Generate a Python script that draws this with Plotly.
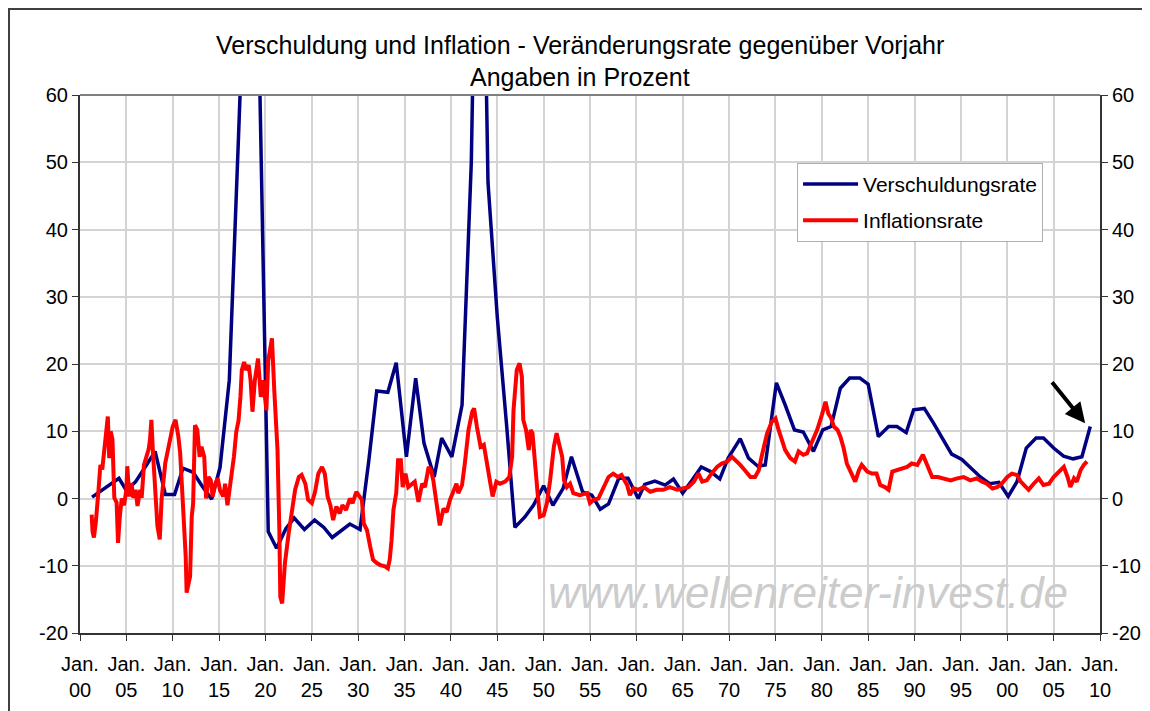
import plotly.graph_objects as go

# ---------------- data ----------------
debt_years = [1901.3, 1902.3, 1903.3, 1904.2, 1905.0, 1906.0, 1907.0, 1908.1, 1909.2, 1910.2,
              1911.1, 1912.2, 1913.2, 1914.2, 1915.1, 1916.1, 1917.1, 1918.2, 1919.3, 1920.3,
              1921.2, 1922.2, 1923.1, 1924.2, 1925.3, 1926.3, 1927.2, 1928.1, 1929.1, 1930.2,
              1931.15, 1932.0, 1933.2, 1934.1, 1935.2, 1936.2, 1937.1, 1938.2, 1939.0, 1940.1,
              1941.2, 1942.2, 1943.1, 1944.0, 1945.0, 1946.0, 1946.9, 1948.0, 1948.9, 1950.0,
              1951.0, 1952.1, 1953.0, 1954.2, 1955.2, 1956.1, 1957.0, 1958.1, 1959.1, 1960.2,
              1960.9, 1962.0, 1963.1, 1964.0, 1965.0, 1966.0, 1967.0, 1968.0, 1969.0, 1969.9,
              1971.2, 1972.1, 1973.1, 1973.9, 1975.1, 1976.05, 1977.05, 1978.0, 1979.1, 1980.1,
              1981.0, 1982.0, 1983.0, 1984.1, 1985.0, 1986.1, 1987.2, 1988.1, 1989.1, 1989.9,
              1991.05, 1992.05, 1993.1, 1994.0, 1995.1, 1996.0, 1997.1, 1998.1, 1999.1, 2000.1,
              2001.05, 2002.05, 2003.1, 2003.9, 2005.0, 2006.07, 2007.1, 2008.05, 2008.95]
debt_values = [0.2, 1.2, 2.1, 3.0, 1.2, 2.5, 4.6, 7.0, 0.6, 0.6,
               4.5, 3.9, 1.8, -0.1, 4.6, 17.6, 54.0, 95.0, 68.0, -4.9,
               -7.4, -4.5, -2.9, -4.6, -3.2, -4.3, -5.8, -4.9, -3.8, -4.6,
               5.7, 16.0, 15.8, 20.2, 6.2, 17.9, 8.2, 3.2, 9.0, 6.2,
               13.9, 50.0, 120.0, 47.0, 27.0, 11.0, -4.3, -2.7, -1.0, 1.9,
               -1.0, 1.5, 6.2, 1.0, 0.5, -1.6, -0.8, 3.0, 3.0, 0.0,
               2.1, 2.6, 2.0, 2.9, 0.8, 2.7, 4.7, 4.0, 2.9, 6.0,
               8.9, 6.0, 4.8, 5.0, 17.2, 13.9, 10.2, 9.9, 7.0, 10.2,
               10.7, 16.4, 17.9, 17.9, 17.0, 9.2, 10.7, 10.7, 9.8, 13.2,
               13.4, 11.2, 8.7, 6.6, 5.8, 4.7, 3.2, 2.2, 2.4, 0.3,
               2.5, 7.5, 9.0, 9.0, 7.5, 6.3, 5.9, 6.2, 10.7]

infl_years = [1901.26, 1901.35, 1901.5, 1901.7, 1902.0, 1902.2, 1902.4, 1902.6, 1902.8, 1903.0,
              1903.15, 1903.3, 1903.5, 1903.7, 1903.95, 1904.1, 1904.3, 1904.5, 1904.75, 1905.0,
              1905.1, 1905.3, 1905.55, 1905.75, 1906.0, 1906.2, 1906.5, 1906.65, 1906.9, 1907.1,
              1907.4, 1907.55, 1907.7, 1907.85, 1908.1, 1908.35, 1908.6, 1908.8, 1909.2, 1909.45,
              1909.7, 1910.0, 1910.3, 1910.6, 1910.8, 1911.0, 1911.2, 1911.4, 1911.5, 1911.87,
              1912.05, 1912.2, 1912.4, 1912.65, 1912.9, 1913.1, 1913.4, 1913.6, 1913.85, 1914.1,
              1914.3, 1914.6, 1914.85, 1915.1, 1915.45, 1915.65, 1915.9, 1916.2, 1916.4, 1916.6,
              1916.85, 1917.1, 1917.3, 1917.45, 1917.7, 1917.9, 1918.2, 1918.4, 1918.6, 1918.85,
              1919.2, 1919.5, 1919.75, 1920.1, 1920.3, 1920.7, 1920.95, 1921.3, 1921.5, 1921.6,
              1921.8, 1922.1, 1922.5, 1922.85, 1923.2, 1923.6, 1923.9, 1924.3, 1924.6, 1925.0,
              1925.35, 1925.7, 1926.1, 1926.4, 1926.7, 1927.0, 1927.3, 1927.65, 1928.0, 1928.3,
              1928.7, 1929.1, 1929.4, 1929.8, 1930.1, 1930.4, 1930.6, 1930.95, 1931.3, 1931.6,
              1932.0, 1932.4, 1932.9, 1933.2, 1933.4, 1933.6, 1933.8, 1934.1, 1934.3, 1934.6,
              1934.8, 1935.1, 1935.4, 1935.8, 1936.1, 1936.5, 1936.9, 1937.2, 1937.6, 1937.85,
              1938.1, 1938.5, 1938.8, 1939.2, 1939.55, 1939.9, 1940.3, 1940.6, 1940.8, 1941.2,
              1941.5, 1941.9, 1942.3, 1942.5, 1942.8, 1943.2, 1943.55, 1943.9, 1944.2, 1944.5,
              1944.9, 1945.3, 1945.85, 1946.3, 1946.6, 1946.75, 1947.1, 1947.4, 1947.65, 1947.8,
              1948.1, 1948.4, 1948.6, 1948.8, 1949.1, 1949.35, 1949.6, 1950.0, 1950.35, 1950.7,
              1951.1, 1951.4, 1951.65, 1952.0, 1952.2, 1952.5, 1952.85, 1953.2, 1953.9, 1954.7,
              1955.0, 1955.4, 1955.9, 1956.45, 1957.0, 1957.5, 1958.0, 1958.4, 1959.0, 1959.3,
              1959.7, 1960.2, 1960.8, 1961.5, 1962.2, 1962.9, 1963.6, 1964.4, 1965.0, 1965.6,
              1966.2, 1966.7, 1967.1, 1967.6, 1968.1, 1968.7, 1969.2, 1969.8, 1970.3, 1970.7,
              1971.2, 1971.7, 1972.3, 1972.8, 1973.2, 1973.5, 1974.1, 1974.6, 1975.0, 1975.3,
              1975.7, 1976.05, 1976.6, 1977.1, 1977.5, 1978.0, 1978.4, 1978.9, 1979.5, 1980.0,
              1980.4, 1980.7, 1981.0, 1981.3, 1981.7, 1982.0, 1982.35, 1982.7, 1983.1, 1983.6,
              1984.0, 1984.3, 1984.9, 1985.4, 1985.9, 1986.3, 1986.8, 1987.2, 1987.6, 1988.1,
              1988.6, 1989.2, 1989.7, 1990.3, 1990.9, 1991.3, 1991.9, 1992.5, 1993.1, 1993.9,
              1994.6, 1995.3, 1996.0, 1996.7, 1997.3, 1997.8, 1998.4, 1998.9, 1999.4, 2000.0,
              2000.5, 2001.05, 2001.4, 2001.8, 2002.3, 2002.85, 2003.4, 2003.9, 2004.5, 2005.0,
              2005.55, 2006.1, 2006.5, 2006.8, 2007.2, 2007.5, 2007.9, 2008.25, 2008.6]
infl_values = [-2.4, -4.9, -5.8, -3.6, 1.3, 5.0, 4.3, 7.3, 8.8, 12.2,
               6.0, 10.0, 8.8, 0.1, -0.6, -6.6, -2.6, 0.0, -1.0, 1.3,
               4.8, 0.3, 2.3, 0.1, 1.3, -1.1, 1.3, 0.1, 5.0, 6.0,
               7.3, 8.8, 11.7, 7.3, 1.8, -4.1, -6.1, -0.1, 5.3, 7.0,
               9.3, 10.7, 11.7, 9.3, 6.8, 2.3, -4.1, -8.6, -14.0, -11.6,
               -2.7, -0.7, 10.9, 10.2, 6.2, 7.7, 6.2, 0.0, 3.2, 2.7,
               0.3, 2.2, 3.0, 1.2, 0.3, 2.2, -1.0, 1.7, 4.2, 6.2,
               9.9, 11.6, 15.1, 19.1, 20.3, 19.1, 19.8, 17.5, 12.9, 17.5,
               20.8, 15.1, 17.6, 13.1, 20.5, 23.8, 16.1, 7.2, -4.7, -14.6,
               -15.6, -9.6, -5.2, -1.7, 1.3, 3.2, 3.5, 2.2, -0.2, -0.7,
               1.0, 3.7, 4.7, 3.7, 0.3, -1.0, -3.2, -1.2, -2.2, -1.0,
               -1.7, 0.0, -0.7, 1.0, 0.3, -0.2, -3.7, -4.7, -7.2, -9.1,
               -9.6, -9.9, -10.1, -10.4, -9.1, -6.2, -1.7, 0.8, 5.7, 5.7,
               1.7, 3.7, 1.7, 2.2, 2.5, -0.5, 2.2, 1.7, 4.7, 4.2,
               2.7, -1.2, -4.0, -1.5, -2.0, -0.2, 1.3, 2.2, 0.8, 2.0,
               5.2, 10.2, 12.9, 13.4, 10.7, 7.7, 8.0, 5.5, 2.7, 0.3,
               2.5, 2.2, 2.5, 3.2, 6.2, 13.1, 19.1, 20.1, 18.1, 11.7,
               10.2, 7.2, 10.2, 9.7, 4.2, 0.8, -2.7, -2.5, -0.7, 2.7,
               7.7, 9.7, 8.2, 6.2, 2.7, 1.7, 2.2, 0.8, 0.5, 0.8,
               -0.7, -0.2, 0.0, 1.7, 3.2, 3.7, 3.2, 3.5, 2.0, 0.5,
               1.5, 1.3, 1.7, 1.0, 1.3, 1.3, 1.7, 1.3, 1.5, 1.7,
               2.5, 3.7, 2.5, 2.7, 3.7, 4.7, 5.2, 5.5, 6.2, 5.7,
               5.0, 4.2, 3.2, 3.2, 4.2, 6.2, 9.7, 11.4, 11.9, 10.4,
               8.7, 7.2, 6.0, 5.5, 7.0, 6.5, 6.7, 8.4, 10.2, 12.4,
               14.4, 12.6, 12.0, 10.7, 10.2, 9.2, 7.5, 5.2, 4.0, 2.5,
               4.2, 5.0, 4.0, 3.7, 3.7, 2.0, 1.7, 1.3, 4.0, 4.2,
               4.5, 4.7, 5.2, 5.0, 6.5, 5.2, 3.2, 3.2, 3.0, 2.7,
               3.0, 3.2, 2.7, 3.0, 2.5, 2.2, 1.5, 1.7, 2.2, 3.2,
               3.7, 3.5, 2.6, 2.0, 1.3, 2.2, 3.0, 2.0, 2.2, 3.2,
               4.0, 4.7, 3.2, 1.7, 3.0, 2.5, 4.2, 5.0, 5.5]

tick_years = list(range(1900, 2011, 5))
tick_labels = ["Jan.<br>%02d" % (y % 100) for y in tick_years]
y_ticks = [-20, -10, 0, 10, 20, 30, 40, 50, 60]
y_tick_labels = ["-20", "-10", "0", "10", "20", "30", "40", "50", "60"]

TITLE_1 = "Verschuldung und Inflation - Veränderungsrate gegenüber Vorjahr"
TITLE_2 = "Angaben in Prozent"
WATERMARK = "www.wellenreiter-invest.de"
ARROW_TAIL = (2004.7, 17.5)
ARROW_HEAD = (2008.4, 11.2)

FONT = "Liberation Sans, Arial, sans-serif"

fig = go.Figure()
fig.add_trace(go.Scatter(x=debt_years, y=debt_values, mode="lines", name="Verschuldungsrate",
                         line=dict(color="#000080", width=3.5), legendgroup="a"))
fig.add_trace(go.Scatter(x=infl_years, y=infl_values, mode="lines", name="Inflationsrate",
                         line=dict(color="#FF0000", width=4), yaxis="y2", legendgroup="b"))

axis_common = dict(range=[-20, 60], tickvals=y_ticks, ticktext=y_tick_labels,
                   ticks="outside", ticklen=6,
                   tickcolor="#333333", showline=True, linecolor="#333333", linewidth=2,
                   tickfont=dict(family=FONT, size=20, color="#000000"), zeroline=False,
                   automargin=False)

# page body has an 8px margin, so the figure is 8px smaller than the window
fig.update_layout(
    width=1142, height=703,
    margin=dict(l=72, r=50, t=87, b=78),
    paper_bgcolor="white", plot_bgcolor="white",
    showlegend=True,
    legend=dict(x=0.703, y=0.874, xanchor="left", yanchor="top",
                bordercolor="#b0b0b0", borderwidth=1, bgcolor="white",
                font=dict(family=FONT, size=21, color="#000000"),
                itemwidth=55, tracegroupgap=6),
    xaxis=dict(range=[1900, 2010], tickvals=tick_years, ticktext=tick_labels,
               ticks="outside", ticklen=6, tickcolor="#333333",
               showline=True, linecolor="#333333", linewidth=2, mirror=False,
               showgrid=True, gridcolor="#d4d4d4", gridwidth=1.5, zeroline=False,
               automargin=False, ticklabelstandoff=6,
               tickfont=dict(family=FONT, size=20, color="#000000")),
    yaxis=dict(showgrid=True, gridcolor="#d4d4d4", gridwidth=2, side="left", **axis_common),
    yaxis2=dict(overlaying="y", side="right", showgrid=False, anchor="x", **axis_common),
)

# top border of plot area
fig.add_shape(type="line", xref="paper", yref="paper", x0=0, x1=1, y0=1, y1=1,
              line=dict(color="#808080", width=2))
# outer chart frame
fig.add_shape(type="rect", xref="paper", yref="paper", x0=-0.0696, x1=1.0461, y0=-0.2, y1=1.1599,
              line=dict(color="#404040", width=2), layer="below")

fig.add_annotation(text=TITLE_1, xref="paper", yref="paper", x=0.49, y=1.093,
                   xanchor="center", yanchor="middle",
                   showarrow=False, font=dict(family=FONT, size=25, color="#000000"))
fig.add_annotation(text=TITLE_2, xref="paper", yref="paper", x=0.49, y=1.0335,
                   xanchor="center", yanchor="middle",
                   showarrow=False, font=dict(family=FONT, size=25, color="#000000"))
fig.add_annotation(text=WATERMARK, xref="paper", yref="paper", x=0.7137, y=0.0762,
                   xanchor="center", yanchor="middle",
                   showarrow=False, font=dict(family=FONT, size=44, color="#cccccc", style="italic"))
fig.add_annotation(x=ARROW_HEAD[0], y=ARROW_HEAD[1], ax=ARROW_TAIL[0], ay=ARROW_TAIL[1],
                   xref="x", yref="y", axref="x", ayref="y", text="", showarrow=True,
                   arrowhead=2, arrowsize=1, arrowwidth=4, arrowcolor="#000000")

fig.write_html("out.html")
